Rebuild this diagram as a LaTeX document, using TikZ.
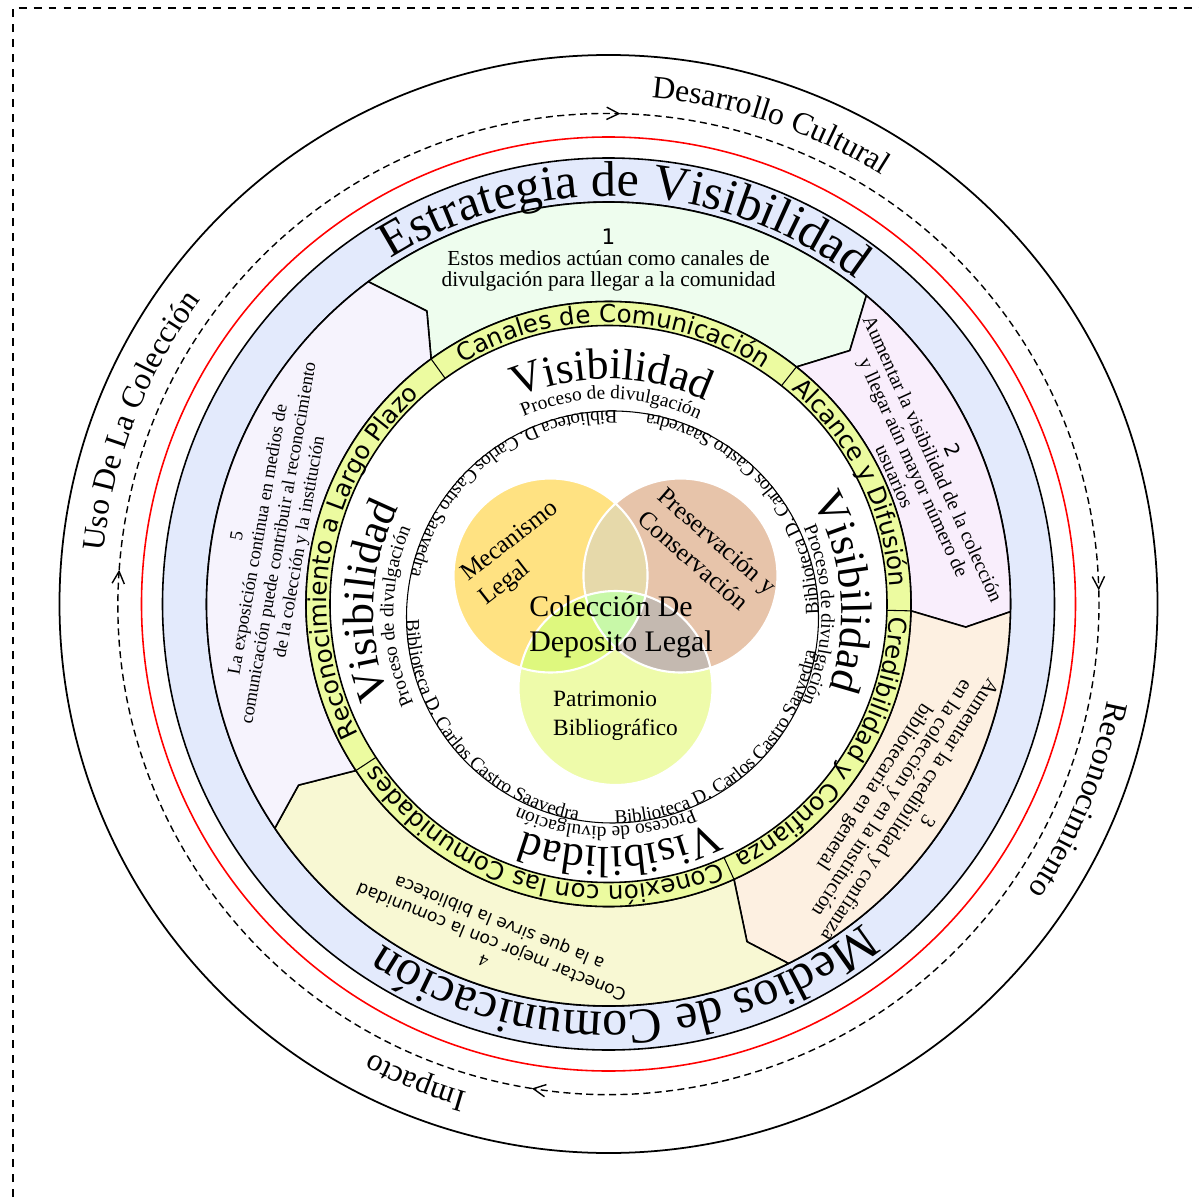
\documentclass[tikz,border=0pt]{standalone}
\usepackage{fontspec}
\setmainfont{Liberation Serif}
\setsansfont{DejaVu Sans}
\usetikzlibrary{decorations.text,arrows.meta}

\definecolor{blueband}{RGB}{227,234,252}
\definecolor{segone}{RGB}{238,253,238}
\definecolor{segtwo}{RGB}{249,238,252}
\definecolor{segthree}{RGB}{253,240,225}
\definecolor{segfour}{RGB}{248,248,211}
\definecolor{segfive}{RGB}{246,243,253}
\definecolor{bandyellow}{RGB}{236,251,160}
\definecolor{mecA}{RGB}{255,226,130}
\definecolor{presB}{RGB}{231,196,170}
\definecolor{patC}{RGB}{238,251,170}
\definecolor{mecpres}{RGB}{230,217,170}
\definecolor{mecpat}{RGB}{222,248,126}
\definecolor{prespat}{RGB}{196,185,176}
\definecolor{allthree}{RGB}{200,248,168}

\newcommand{\outerfont}{\fontsize{18}{18}\selectfont}
\newcommand{\stratfont}{\fontsize{28.5}{28.5}\selectfont}
\newcommand{\bandfont}{\sffamily\fontsize{14}{14}\selectfont}
\newcommand{\visfont}{\fontsize{25}{25}\selectfont}
\newcommand{\procfont}{\fontsize{11}{11}\selectfont}
\newcommand{\libfont}{\fontsize{10.9}{10.9}\selectfont}

% text on an arc round the origin: centre angle, radius, font, text
\newcommand{\cwlabel}[4]{\path[decorate,decoration={text along path,text align=center,text={|#3|#4}}] ({#1+60}:#2) arc[start angle={#1+60},end angle={#1-60},radius=#2];}
\newcommand{\ccwlabel}[4]{\path[decorate,decoration={text along path,text align=center,text={|#3|#4}}] ({#1-60}:#2) arc[start angle={#1-60},end angle={#1+60},radius=#2];}

\begin{document}
\begin{tikzpicture}[x=0.02cm,y=0.02cm,line join=round,
    ring/.style={line width=0.9pt},
    flow/.style={dashed,dash pattern=on 4pt off 2.5pt,line width=0.8pt,-{Straight Barb[length=7pt,width=7pt]}},
    segtext/.style={align=center,inner sep=0pt},
    venntext/.style={align=left,inner sep=0pt}]
  \useasboundingbox (-608.5,-593) rectangle (590.5,604);

  % frame
  \draw[dashed,dash pattern=on 4.5pt off 4pt,line width=0.7pt] (-595.5,-593) -- (-595.5,596) -- (590.5,596);

  % outer rings
  \draw[line width=1pt] (0,0) circle[radius=549];
  \foreach \s/\e in {176/88.6,88.6/1.6,1.6/-99,-99/-184}
    \draw[flow] (\s:490.5) arc[start angle=\s,end angle=\e,radius=490.5];
  \draw[ring,red] (0,0) circle[radius=467];
  \filldraw[ring,fill=blueband] (0,0) circle[radius=446];
  \draw[ring] (0,0) circle[radius=402];

  % sector borders
  \coordinate (y1) at (125.9:302.5);  \coordinate (k1) at (121.8:344.7); \coordinate (o1) at (126.7:402);
  \coordinate (y2) at (51.6:302.5);   \coordinate (k2) at (46.4:350);    \coordinate (o2) at (50.1:402);
  \coordinate (y3) at (-1.3:302.5);   \coordinate (k3) at (-3.7:358);    \coordinate (o3) at (-1.1:402);
  \coordinate (y4) at (-65.5:302.5);  \coordinate (k4) at (-67.7:365);   \coordinate (o4) at (-63.4:402);
  \coordinate (y5) at (-146.6:302.5); \coordinate (k5) at (-149.7:359);  \coordinate (o5) at (-146.1:402);

  \filldraw[ring,fill=segone] (y1) -- (k1) -- (o1) arc[start angle=126.7,end angle=50.1,radius=402] -- (k2) -- (y2) arc[start angle=51.6,end angle=125.9,radius=302.5] -- cycle;
  \filldraw[ring,fill=segtwo] (y2) -- (k2) -- (o2) arc[start angle=50.1,end angle=-1.1,radius=402] -- (k3) -- (y3) arc[start angle=-1.3,end angle=51.6,radius=302.5] -- cycle;
  \filldraw[ring,fill=segthree] (y3) -- (k3) -- (o3) arc[start angle=-1.1,end angle=-63.4,radius=402] -- (k4) -- (y4) arc[start angle=-65.5,end angle=-1.3,radius=302.5] -- cycle;
  \filldraw[ring,fill=segfour] (y4) -- (k4) -- (o4) arc[start angle=-63.4,end angle=-146.1,radius=402] -- (k5) -- (y5) arc[start angle=-146.6,end angle=-65.5,radius=302.5] -- cycle;
  \filldraw[ring,fill=segfive] (y5) -- (k5) -- (o5) arc[start angle=-146.1,end angle=-233.3,radius=402] -- (k1) -- (y1) arc[start angle=-234.1,end angle=-146.6,radius=302.5] -- cycle;

  % yellow band
  \filldraw[ring,fill=bandyellow] (0,0) circle[radius=302.5];
  \filldraw[ring,fill=white] (0,0) circle[radius=278.5];
  \foreach \a in {125.9,51.6,-1.3,-65.5,-146.6}
    \draw[line width=0.6pt] (\a:278.5) -- (\a:302.5);

  % ring titles
  \cwlabel{71.3}{508}{\outerfont}{Desarrollo Cultural}
  \cwlabel{-22.6}{508}{\outerfont}{Reconocimiento}
  \cwlabel{-112}{508}{\outerfont}{Impacto}
  \cwlabel{158.7}{508}{\outerfont}{Uso De La Colección}
  \cwlabel{87.5}{408}{\stratfont}{Estrategia de Visibilidad}
  \cwlabel{-87.5}{408}{\stratfont}{Medios de Comunicación}
  \cwlabel{88.9}{281.5}{\bandfont}{Canales de Comunicación}
  \cwlabel{26.5}{281.5}{\bandfont}{Alcance y Difusión}
  \cwlabel{-33}{281.5}{\bandfont}{Credibilidad y Confianza}
  \cwlabel{-106}{281.5}{\bandfont}{Conexión con las Comunidades}
  \cwlabel{169.8}{281.5}{\bandfont}{Reconocimiento a Largo Plazo}

  % sector texts
  \node[segtext,font=\fontsize{12.2}{12}\selectfont] (s1) at (90:344)
    {{\sffamily 1}\\Estos medios actúan como canales de\\divulgación para llegar a la comunidad};
  \node[segtext,font=\fontsize{11.3}{12}\selectfont,rotate=-65.5] (s2) at (24.1:345.6)
    {{\sffamily 2}\\Aumentar la visibilidad de la colección\\y llegar aún mayor número de\\usuarios};
  \node[segtext,font=\fontsize{11.8}{12}\selectfont,rotate=-123] (s3) at (-34.4:353)
    {3\\Aumentar la credibilidad y confianza\\en la colección y en la institución\\bibliotecaria en general};
  \node[segtext,font=\sffamily\fontsize{9.7}{12}\selectfont,rotate=158] (s4) at (-109.1:356)
    {{\rmfamily 4}\\Conectar mejor con la comunidad\\a la que sirve la biblioteca};
  \node[segtext,font=\fontsize{10.5}{12}\selectfont,rotate=80] (s5) at (169.6:344.6)
    {5\\La exposición continua en medios de\\comunicación puede contribuir al reconocimiento\\de la colección y la institución};

  % inner circle
  \begin{scope}[shift={(-1,-9)}]
    \foreach \a in {89,5,-87,177} {\cwlabel{\a}{234}{\visfont}{Visibilidad}}
    \foreach \a in {89,-0.5,-90.5,181} {\cwlabel{\a}{214}{\procfont}{Proceso de divulgación}}
  \end{scope}
  \begin{scope}[shift={(4,-13)}]
    \draw[line width=0.6pt] (0,0) circle[radius=206];
    \foreach \a in {40.5,128.5,220.5,310.5} {\ccwlabel{\a}{206}{\libfont}{Biblioteca D. Carlos Castro Saavedra}}
  \end{scope}

  % venn
  \begin{scope}[shift={(7,-9)}]
    \coordinate (mec) at (150:75);
    \coordinate (pres) at (30:75);
    \coordinate (pat) at (-90:75);
    \fill[mecA] (mec) circle[radius=97];
    \fill[presB] (pres) circle[radius=97];
    \fill[patC] (pat) circle[radius=97];
    \begin{scope}
      \clip (mec) circle[radius=97];
      \fill[mecpres] (pres) circle[radius=97];
      \fill[mecpat] (pat) circle[radius=97];
    \end{scope}
    \begin{scope}
      \clip (pres) circle[radius=97];
      \fill[prespat] (pat) circle[radius=97];
      \clip (mec) circle[radius=97];
      \fill[allthree] (pat) circle[radius=97];
    \end{scope}
    \draw[white,line width=1.2pt] (mec) circle[radius=97] (pres) circle[radius=97] (pat) circle[radius=97];
  \end{scope}
  \node[venntext,font=\fontsize{14.1}{17.3}\selectfont,rotate=38] (mecl) at (-89,50) {Mecanismo\\Legal};
  \node[venntext,font=\fontsize{14.2}{17.3}\selectfont,rotate=-41] (presl) at (98.9,52) {Preservación y\\Conservación};
  \node[venntext,font=\fontsize{17}{19.8}\selectfont] (dep) at (12.5,-23) {Colección De\\Deposito Legal};
  \node[venntext,font=\fontsize{13.3}{16.4}\selectfont] (patl) at (7,-112) {Patrimonio\\Bibliográfico};
\end{tikzpicture}
\end{document}
